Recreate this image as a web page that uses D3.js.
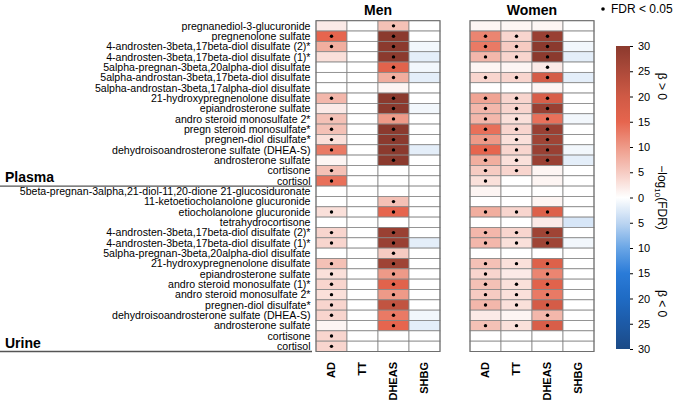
<!DOCTYPE html>
<html><head><meta charset="utf-8">
<script src="https://cdn.jsdelivr.net/npm/d3@7"></script>
<style>
html,body{margin:0;padding:0;background:#fff;}
svg{display:block;font-family:"Liberation Sans",Arial,sans-serif;}
</style></head>
<body><svg id="chart" width="675" height="403"></svg>
<script>
const plasmaRows = [
  "pregnanediol-3-glucuronide",
  "pregnenolone sulfate",
  "4-androsten-3beta,17beta-diol disulfate (2)*",
  "4-androsten-3beta,17beta-diol disulfate (1)*",
  "5alpha-pregnan-3beta,20alpha-diol disulfate",
  "5alpha-androstan-3beta,17beta-diol disulfate",
  "5alpha-androstan-3beta,17alpha-diol disulfate",
  "21-hydroxypregnenolone disulfate",
  "epiandrosterone sulfate",
  "andro steroid monosulfate 2*",
  "pregn steroid monosulfate*",
  "pregnen-diol disulfate*",
  "dehydroisoandrosterone sulfate (DHEA-S)",
  "androsterone sulfate",
  "cortisone",
  "cortisol"
];
const urineRows = [
  "5beta-pregnan-3alpha,21-diol-11,20-dione 21-glucosiduronate",
  "11-ketoetiocholanolone glucuronide",
  "etiocholanolone glucuronide",
  "tetrahydrocortisone",
  "4-androsten-3beta,17beta-diol disulfate (2)*",
  "4-androsten-3beta,17beta-diol disulfate (1)*",
  "5alpha-pregnan-3beta,20alpha-diol disulfate",
  "21-hydroxypregnenolone disulfate",
  "epiandrosterone sulfate",
  "andro steroid monosulfate (1)*",
  "andro steroid monosulfate 2*",
  "pregnen-diol disulfate*",
  "dehydroisoandrosterone sulfate (DHEA-S)",
  "androsterone sulfate",
  "cortisone",
  "cortisol"
];
const groups = ["Plasma", "Urine"];
const columns = ["AD", "TT", "DHEAS", "SHBG"];
const panels = ["Men", "Women"];

// signed -log10(FDR): plasma rows (16) then urine rows (16)
const menAD     = [2,15,8,3,0,0,0,7,2,6,6,3,13,1,6,14, 0,0,3,0,4,4,0,6,3,4,3,4,4,1,4,4];
const menADSig  = [0,1,1,0,0,0,0,1,0,1,1,1,1,0,1,1, 0,0,1,0,1,1,0,1,1,1,1,1,1,0,1,1];
const menTT     = [0,0,0,0,0,0,0,0,0,0,0,0,0,0,0,0, 0,0,0,0,0,0,0,0,0,0,0,0,0,0,0,0];
const menTTSig  = [0,0,0,0,0,0,0,0,0,0,0,0,0,0,0,0, 0,0,0,0,0,0,0,0,0,0,0,0,0,0,0,0];
const menDHEAS  = [6,30,30,30,16,8,1,30,30,10,30,30,30,30,0,0, 0,6,15,0,28,28,5,27,10,16,10,22,13,15,0,0];
const menDHEASSig = [1,1,1,1,1,1,0,1,1,1,1,1,1,1,0,0, 0,1,1,0,1,1,1,1,1,1,1,1,1,1,0,0];
const menSHBG   = [0,0,-1,-2,-1,-2,0,0,-1,0,0,0,-2,0,0,0, 0,0,0,0,0,-2,0,0,0,0,0,0,-1,-2,0,0];
const menSHBGSig = [0,0,0,0,0,0,0,0,0,0,0,0,0,0,0,0, 0,0,0,0,0,0,0,0,0,0,0,0,0,0,0,0];

const womenAD    = [1,12,13,7,1,4,0,9,7,7,14,10,15,8,5,3, 1,0,8,0,7,7,0,6,4,6,5,7,2,6,0,0];
const womenADSig = [0,1,1,1,0,1,0,1,1,1,1,1,1,1,1,1, 0,0,1,0,1,1,0,1,1,1,1,1,0,1,0,0];
const womenTT    = [1,4,5,4,1,4,0,4,4,3,4,3,4,3,4,0, 0,0,4,0,4,3,0,3,2,3,3,3,1,3,0,0];
const womenTTSig = [0,1,1,1,0,1,0,1,1,1,1,1,1,1,1,0, 0,0,1,0,1,1,0,1,0,1,1,1,0,1,0,0];
const womenDHEAS = [1,28,30,30,2,19,1,18,28,14,28,27,28,28,1,1, 0,1,17,2,27,27,0,17,12,16,13,19,7,18,0,0];
const womenDHEASSig = [0,1,1,1,1,1,0,1,1,1,1,1,1,1,0,0, 0,0,1,0,1,1,0,1,1,1,1,1,1,1,0,0];
const womenSHBG  = [0,0,-1,-2,0,-2,0,0,0,-1,0,0,-1,-2,0,0, 0,0,0,-3,0,-1,0,0,0,0,0,0,0,0,0,0];
const womenSHBGSig = [0,0,0,0,0,0,0,0,0,0,0,0,0,0,0,0, 0,0,0,0,0,0,0,0,0,0,0,0,0,0,0,0];

const legendTicks = [30,25,20,15,10,5,0,-5,-10,-15,-20,-25,-30];

// ---------- build ----------
const rows = plasmaRows.concat(urineRows);
const panelData = {
  Men:   {AD:[menAD,menADSig], TT:[menTT,menTTSig], DHEAS:[menDHEAS,menDHEASSig], SHBG:[menSHBG,menSHBGSig]},
  Women: {AD:[womenAD,womenADSig], TT:[womenTT,womenTTSig], DHEAS:[womenDHEAS,womenDHEASSig], SHBG:[womenSHBG,womenSHBGSig]}
};

const svg = d3.select("#chart");
const gridTop = 20.7, gridBottom = 351.5;
const y = d3.scaleBand().domain(d3.range(rows.length)).range([gridTop, gridBottom]).padding(0);
const xPanel = {
  Men: d3.scaleBand().domain(columns).range([316, 440]),
  Women: d3.scaleBand().domain(columns).range([470, 594])
};
const color = d3.scaleLinear()
  .domain([-30,-25,-20,-15,-10,-5,0,5,10,15,20,25,30])
  .range(["#1b4a86","#1d5aa6","#1f6bc4","#2a7bd8","#6aa6e6","#bcd5f1","#ffffff",
          "#f6cbc2","#ee9a88","#e6654e","#cf5a45","#ad4a3a","#8b3a2e"])
  .clamp(true);

const font = "'Liberation Sans', Arial, sans-serif";

// row labels
svg.append("g").selectAll("text").data(rows).join("text")
  .attr("x", 310.5)
  .attr("y", (d,i) => y(i) + y.bandwidth()/2)
  .attr("dy", "0.36em")
  .attr("text-anchor", "end")
  .attr("font-size", 10.6)
  .attr("fill", "#000")
  .text(d => d);

// group labels and separators
groups.forEach((g, gi) => {
  const yb = y(gi === 0 ? plasmaRows.length - 1 : rows.length - 1) + y.bandwidth();
  svg.append("line").attr("x1", 0).attr("x2", 312).attr("y1", yb).attr("y2", yb)
    .attr("stroke", "#555").attr("stroke-width", 1.3);
  svg.append("text").attr("x", 5).attr("y", yb - 4)
    .attr("font-size", 14).attr("font-weight", "bold").text(g);
});

// panels
panels.forEach(p => {
  const x = xPanel[p];
  const g = svg.append("g");
  const cells = [];
  columns.forEach(c => {
    const [vals, sig] = panelData[p][c];
    vals.forEach((v, i) => cells.push({c, i, v, s: sig[i]}));
  });
  g.selectAll("rect").data(cells).join("rect")
    .attr("x", d => x(d.c)).attr("y", d => y(d.i))
    .attr("width", x.bandwidth()).attr("height", y.bandwidth())
    .attr("fill", d => color(d.v))
    .attr("stroke", "#858585").attr("stroke-width", 0.8);
  g.selectAll("circle").data(cells.filter(d => d.s)).join("circle")
    .attr("cx", d => x(d.c) + x.bandwidth()/2)
    .attr("cy", d => y(d.i) + y.bandwidth()/2)
    .attr("r", 1.7).attr("fill", "#000");
  g.append("rect").attr("x", x.range()[0]).attr("y", gridTop)
    .attr("width", x.range()[1]-x.range()[0]).attr("height", gridBottom-gridTop)
    .attr("fill", "none").attr("stroke", "#6e6e6e").attr("stroke-width", 1);
  svg.append("text").attr("x", (x.range()[0]+x.range()[1])/2).attr("y", 15)
    .attr("text-anchor", "middle").attr("font-size", 14).attr("font-weight", "bold").text(p);
  svg.append("g").selectAll("text").data(columns).join("text")
    .attr("transform", d => `translate(${x(d) + x.bandwidth()/2},362) rotate(-90)`)
    .attr("dy", "0.36em")
    .attr("text-anchor", "end")
    .attr("font-size", 11).attr("font-weight", "bold").text(d => d);
});

// legend: FDR dot
svg.append("circle").attr("cx", 603).attr("cy", 9).attr("r", 1.8).attr("fill", "#000");
svg.append("text").attr("x", 611).attr("y", 13).attr("font-size", 12).text("FDR < 0.05");

// colorbar
const cbX = 616, cbW = 14, cbTop = 46, cbBot = 349;
const cy = d3.scaleLinear().domain([30, -30]).range([cbTop, cbBot]);
const defs = svg.append("defs");
const grad = defs.append("linearGradient").attr("id", "cbgrad")
  .attr("x1", 0).attr("y1", 0).attr("x2", 0).attr("y2", 1);
d3.range(0, 61).forEach(k => {
  grad.append("stop").attr("offset", (k/60)).attr("stop-color", color(30 - k));
});
svg.append("rect").attr("x", cbX).attr("y", cbTop).attr("width", cbW).attr("height", cbBot - cbTop)
  .attr("fill", "url(#cbgrad)");
const axis = d3.axisRight(cy).tickValues(legendTicks).tickFormat(d => Math.abs(d)).tickSize(3).tickPadding(5);
const ag = svg.append("g").attr("transform", `translate(${cbX + cbW},0)`).call(axis);
ag.select(".domain").remove();
ag.selectAll("text").attr("font-size", 11).attr("font-family", font).attr("fill", "#000");
ag.selectAll("line").attr("stroke", "#000");

const lx = 662;
svg.append("text").attr("transform", `translate(${lx},${cy(22)}) rotate(90)`)
  .attr("text-anchor", "middle").attr("dy", "0.35em").attr("font-size", 12).text("β > 0");
const t = svg.append("text").attr("transform", `translate(${lx},${cy(0)}) rotate(90)`)
  .attr("text-anchor", "middle").attr("dy", "0.35em").attr("font-size", 12);
t.append("tspan").text("−log");
t.append("tspan").attr("font-size", 8).attr("dy", "3").text("10");
t.append("tspan").attr("dy", "-3").text("(FDR)");
svg.append("text").attr("transform", `translate(${lx},${cy(-21)}) rotate(90)`)
  .attr("text-anchor", "middle").attr("dy", "0.35em").attr("font-size", 12).text("β < 0");
</script></body></html>
